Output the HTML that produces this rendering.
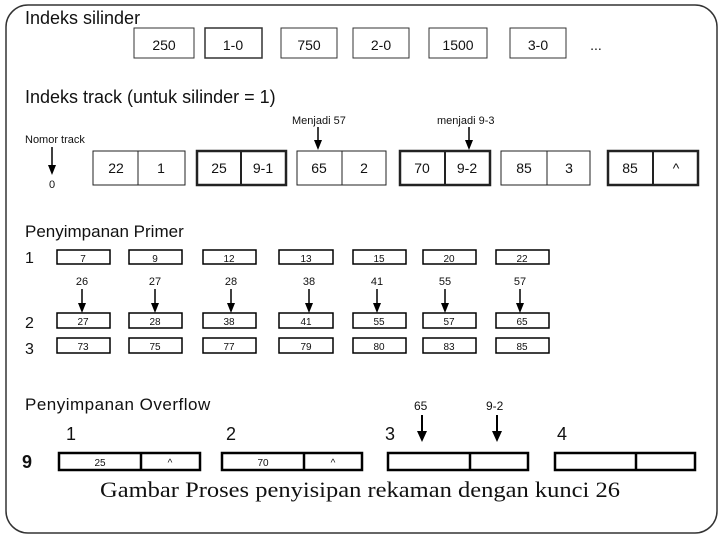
<!DOCTYPE html>
<html><head><meta charset="utf-8"><style>
html,body{margin:0;padding:0;background:#fff;}
svg{display:block;}
text{font-family:"Liberation Sans",sans-serif;fill:#111;}
</style></head><body>
<svg width="720" height="540" viewBox="0 0 720 540" xmlns="http://www.w3.org/2000/svg">
<rect x="6" y="5" width="711" height="528" rx="22" fill="none" stroke="#333" stroke-width="1.5"/>
<text x="25" y="24" font-size="18">Indeks silinder</text>
<g fill="none" stroke="#333" stroke-width="1">
<rect x="134" y="28" width="60" height="30"/><rect x="205" y="28" width="57" height="30" stroke-width="1.5"/>
<rect x="281" y="28" width="56" height="30"/><rect x="353" y="28" width="56" height="30"/>
<rect x="429" y="28" width="58" height="30"/><rect x="510" y="28" width="56" height="30"/>
</g>
<g font-size="14" text-anchor="middle">
<text x="164" y="50">250</text><text x="233" y="50">1-0</text><text x="309" y="50">750</text><text x="381" y="50">2-0</text><text x="458" y="50">1500</text><text x="538" y="50">3-0</text><text x="596" y="50">...</text>
</g>
<text x="25" y="103" font-size="18">Indeks track (untuk silinder = 1)</text>
<text x="25" y="143" font-size="11">Nomor track</text>
<g stroke="#000" stroke-width="1.5">
<line x1="52" y1="147" x2="52" y2="166"/>
<line x1="318" y1="127" x2="318" y2="141"/>
<line x1="469" y1="127" x2="469" y2="141"/>
</g>
<g fill="#000">
<polygon points="48,165 56,165 52,175"/>
<polygon points="314,140 322,140 318,150"/>
<polygon points="465,140 473,140 469,150"/>
</g>
<text x="49" y="188" font-size="11">0</text>
<text x="292" y="124" font-size="11">Menjadi 57</text>
<text x="437" y="124" font-size="11">menjadi 9-3</text>
<g fill="none" stroke="#222">
<rect x="93" y="151" width="92" height="34" stroke-width="1"/><line x1="138" y1="151" x2="138" y2="185"/>
<rect x="197" y="151" width="89" height="34" stroke-width="2.5"/><line x1="241" y1="151" x2="241" y2="185" stroke-width="2"/>
<rect x="297" y="151" width="89" height="34" stroke-width="1"/><line x1="342" y1="151" x2="342" y2="185"/>
<rect x="400" y="151" width="90" height="34" stroke-width="2.5"/><line x1="445" y1="151" x2="445" y2="185" stroke-width="2"/>
<rect x="501" y="151" width="89" height="34" stroke-width="1"/><line x1="547" y1="151" x2="547" y2="185"/>
<rect x="608" y="151" width="90" height="34" stroke-width="2.5"/><line x1="653" y1="151" x2="653" y2="185" stroke-width="2"/>
</g>
<g font-size="14" text-anchor="middle">
<text x="116" y="173">22</text><text x="161" y="173">1</text><text x="219" y="173">25</text><text x="263" y="173">9-1</text>
<text x="319" y="173">65</text><text x="364" y="173">2</text><text x="422" y="173">70</text><text x="467" y="173">9-2</text>
<text x="524" y="173">85</text><text x="569" y="173">3</text><text x="630" y="173">85</text><text x="676" y="173">^</text>
</g>
<text x="25" y="237" font-size="17">Penyimpanan Primer</text>
<g font-size="16"><text x="25" y="263">1</text><text x="25" y="328">2</text><text x="25" y="354">3</text></g>
<g fill="none" stroke="#000" stroke-width="1.5">
<rect x="57" y="250" width="53" height="14"/><rect x="129" y="250" width="53" height="14"/><rect x="203" y="250" width="53" height="14"/><rect x="279" y="250" width="54" height="14"/><rect x="353" y="250" width="53" height="14"/><rect x="423" y="250" width="53" height="14"/><rect x="496" y="250" width="53" height="14"/>
<rect x="57" y="313" width="53" height="15"/><rect x="129" y="313" width="53" height="15"/><rect x="203" y="313" width="53" height="15"/><rect x="279" y="313" width="54" height="15"/><rect x="353" y="313" width="53" height="15"/><rect x="423" y="313" width="53" height="15"/><rect x="496" y="313" width="53" height="15"/>
<rect x="57" y="338" width="53" height="15"/><rect x="129" y="338" width="53" height="15"/><rect x="203" y="338" width="53" height="15"/><rect x="279" y="338" width="54" height="15"/><rect x="353" y="338" width="53" height="15"/><rect x="423" y="338" width="53" height="15"/><rect x="496" y="338" width="53" height="15"/>
</g>
<g font-size="10" text-anchor="middle">
<text x="83" y="262">7</text><text x="155" y="262">9</text><text x="229" y="262">12</text><text x="306" y="262">13</text><text x="379" y="262">15</text><text x="449" y="262">20</text><text x="522" y="262">22</text>
<text x="83" y="325">27</text><text x="155" y="325">28</text><text x="229" y="325">38</text><text x="306" y="325">41</text><text x="379" y="325">55</text><text x="449" y="325">57</text><text x="522" y="325">65</text>
<text x="83" y="350">73</text><text x="155" y="350">75</text><text x="229" y="350">77</text><text x="306" y="350">79</text><text x="379" y="350">80</text><text x="449" y="350">83</text><text x="522" y="350">85</text>
</g>
<g font-size="11" text-anchor="middle">
<text x="82" y="285">26</text><text x="155" y="285">27</text><text x="231" y="285">28</text><text x="309" y="285">38</text><text x="377" y="285">41</text><text x="445" y="285">55</text><text x="520" y="285">57</text>
</g>
<g stroke="#000" stroke-width="1.5">
<line x1="82" y1="289" x2="82" y2="304"/><line x1="155" y1="289" x2="155" y2="304"/><line x1="231" y1="289" x2="231" y2="304"/><line x1="309" y1="289" x2="309" y2="304"/><line x1="377" y1="289" x2="377" y2="304"/><line x1="445" y1="289" x2="445" y2="304"/><line x1="520" y1="289" x2="520" y2="304"/>
</g>
<g fill="#000">
<polygon points="78,303 86,303 82,313"/><polygon points="151,303 159,303 155,313"/><polygon points="227,303 235,303 231,313"/><polygon points="305,303 313,303 309,313"/><polygon points="373,303 381,303 377,313"/><polygon points="441,303 449,303 445,313"/><polygon points="516,303 524,303 520,313"/>
</g>
<text x="25" y="410" font-size="17" style="letter-spacing:0.5px">Penyimpanan Overflow</text>
<g font-size="18"><text x="66" y="440">1</text><text x="226" y="440">2</text><text x="385" y="440">3</text><text x="557" y="440">4</text><text x="22" y="468" font-weight="bold">9</text></g>
<text x="414" y="410" font-size="12">65</text><text x="486" y="410" font-size="12">9-2</text>
<g stroke="#000" stroke-width="2"><line x1="422" y1="415" x2="422" y2="432"/><line x1="497" y1="415" x2="497" y2="432"/></g>
<g fill="#000"><polygon points="417,431 427,431 422,442"/><polygon points="492,431 502,431 497,442"/></g>
<g fill="none" stroke="#000" stroke-width="2.5">
<rect x="59" y="453" width="141" height="17"/><line x1="141" y1="453" x2="141" y2="470"/>
<rect x="222" y="453" width="140" height="17"/><line x1="304" y1="453" x2="304" y2="470"/>
<rect x="388" y="453" width="140" height="17"/><line x1="470" y1="453" x2="470" y2="470"/>
<rect x="555" y="453" width="140" height="17"/><line x1="636" y1="453" x2="636" y2="470"/>
</g>
<g font-size="10" text-anchor="middle"><text x="100" y="466">25</text><text x="170" y="466">^</text><text x="263" y="466">70</text><text x="333" y="466">^</text></g>
<text x="360" y="497" font-size="22" text-anchor="middle" textLength="520" lengthAdjust="spacingAndGlyphs" style="font-family:'Liberation Serif',serif">Gambar Proses penyisipan rekaman dengan kunci 26</text>
</svg>
</body></html>
